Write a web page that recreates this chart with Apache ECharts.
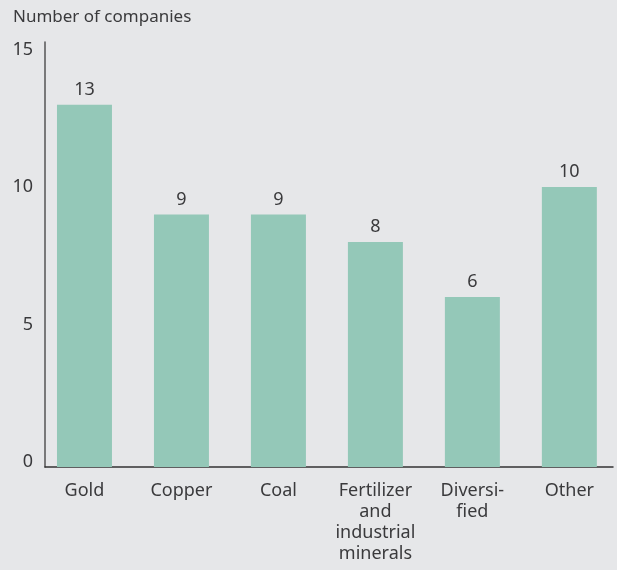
<!DOCTYPE html>
<html>
<head>
<meta charset="utf-8">
<script src="https://cdn.jsdelivr.net/npm/echarts@6/dist/echarts.min.js"></script>
<style>
  html, body { margin: 0; padding: 0; background: #e6e7e9; }
  #main { width: 617px; height: 570px; }
</style>
</head>
<body>
<div id="main"></div>
<script>
// 数据
const categories = ['Gold', 'Copper', 'Coal', 'Fertilizer\nand\nindustrial\nminerals', 'Diversi-\nfied', 'Other'];
const companies = [13, 9, 9, 8, 6, 10];
const yTicks = [0, 5, 10, 15];

const font = 'Noto Sans';
const textColor = '#3a3a3c';
const barColor = '#94c8b8';
const yMin = -0.19;

const chartDom = document.getElementById('main');
const myChart = echarts.init(chartDom);

const option = {
  backgroundColor: '#e6e7e9',
  title: {
    text: 'Number of companies',
    left: 13,
    top: 9,
    padding: 0,
    textStyle: { fontFamily: font, fontSize: 17, fontWeight: 'normal', color: textColor }
  },
  grid: { left: 45, right: 4, top: 42, bottom: 103, outerBoundsMode: 'none' },
  xAxis: {
    type: 'value',
    min: -0.407,
    max: 5.45,
    splitLine: { show: false },
    axisTick: { show: false },
    axisLine: { show: true, onZero: false, lineStyle: { color: '#333', width: 1.5 } },
    axisLabel: {
      customValues: categories.map((c, i) => i),
      formatter: (v) => categories[v],
      fontFamily: font,
      fontSize: 18,
      lineHeight: 21,
      color: textColor,
      margin: 13
    }
  },
  yAxis: {
    type: 'value',
    min: yMin,
    max: 15.28,
    splitLine: { show: false },
    axisTick: { show: false },
    axisLine: { show: true, onZero: false, lineStyle: { color: '#555', width: 1.5 } },
    axisLabel: {
      customValues: yTicks,
      fontFamily: font,
      fontSize: 18,
      color: textColor,
      margin: 12
    }
  },
  series: [
    {
      type: 'custom',
      data: companies.map((v, i) => [i, v]),
      renderItem: (params, api) => {
        const top = api.coord([api.value(0), api.value(1)]);
        const base = api.coord([api.value(0), yMin]);
        const w = api.size([0.567, 0])[0];
        return {
          type: 'group',
          children: [
            {
              type: 'rect',
              shape: { x: top[0] - w / 2, y: top[1], width: w, height: base[1] - top[1] },
              style: { fill: barColor }
            },
            {
              type: 'text',
              x: top[0],
              y: top[1] - 6,
              style: {
                text: String(api.value(1)),
                textAlign: 'center',
                textVerticalAlign: 'bottom',
                fontFamily: font,
                fontSize: 18,
                fill: textColor
              }
            }
          ]
        };
      }
    }
  ]
};

option && myChart.setOption(option);
</script>
</body>
</html>
